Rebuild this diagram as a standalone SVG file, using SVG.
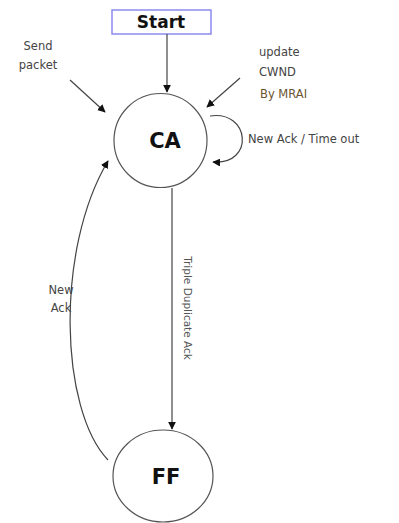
<svg xmlns="http://www.w3.org/2000/svg" width="399" height="523" viewBox="0 0 399 523">
<defs>
<style>
.node{fill:#fff;stroke:#555;stroke-width:1.2}
.lbl{font-family:"DejaVu Sans",Verdana,sans-serif;font-size:11.5px;fill:#444}
.big{font-family:"DejaVu Sans",Verdana,sans-serif;font-weight:bold;font-size:21px;fill:#111;text-anchor:middle}
.edge{fill:none;stroke:#444;stroke-width:1.2}
</style>
<marker id="ah" viewBox="0 0 10 10" refX="9" refY="5" markerWidth="8" markerHeight="8" markerUnits="userSpaceOnUse" orient="auto">
<path d="M0,0 L10,5 L0,10 z" fill="#111"/>
</marker>
</defs>
<rect width="399" height="523" fill="#fff"/>
<g id="start">
<rect x="112" y="10" width="99" height="24" fill="#fff" stroke="#8a8af0" stroke-width="1.5"/>
<text x="161" y="28" class="big" style="font-size:17px">Start</text>
</g>
<g id="ca">
<ellipse cx="160.5" cy="140.5" rx="46.5" ry="47" class="node"/>
<text x="165" y="148" class="big">CA</text>
</g>
<g id="ff">
<ellipse cx="163" cy="476" rx="50" ry="46" class="node"/>
<text x="166" y="484" class="big">FF</text>
</g>
<g id="connectors">
<line x1="167" y1="34" x2="167" y2="92" class="edge" marker-end="url(#ah)"/>
<line x1="70" y1="80" x2="105" y2="112" class="edge" marker-end="url(#ah)"/>
<line x1="240" y1="78" x2="207" y2="107" class="edge" marker-end="url(#ah)"/>
<path d="M210,116 C250,110 255,165 213,162" class="edge" marker-end="url(#ah)"/>
<line x1="172" y1="188" x2="172" y2="429" class="edge" marker-end="url(#ah)"/>
<path d="M108,460 C60,410 55,250 108,161" class="edge" marker-end="url(#ah)"/>
</g>
<g id="labels">
<text class="lbl" x="38" y="50" text-anchor="middle">Send</text>
<text class="lbl" x="38" y="69" text-anchor="middle">packet</text>
<text class="lbl" x="259" y="56">update</text>
<text class="lbl" x="259" y="76">CWND</text>
<text class="lbl" x="260" y="98" style="fill:#6b5530">By MRAI</text>
<text class="lbl" x="248" y="143">New Ack / Time out</text>
<text class="lbl" x="61" y="294" text-anchor="middle">New</text>
<text class="lbl" x="61" y="312" text-anchor="middle">Ack</text>
<text class="lbl" x="0" y="0" text-anchor="middle" style="font-size:10.5px;fill:#555" transform="translate(184,308) rotate(90)">Triple Duplicate Ack</text>
</g>
</svg>
